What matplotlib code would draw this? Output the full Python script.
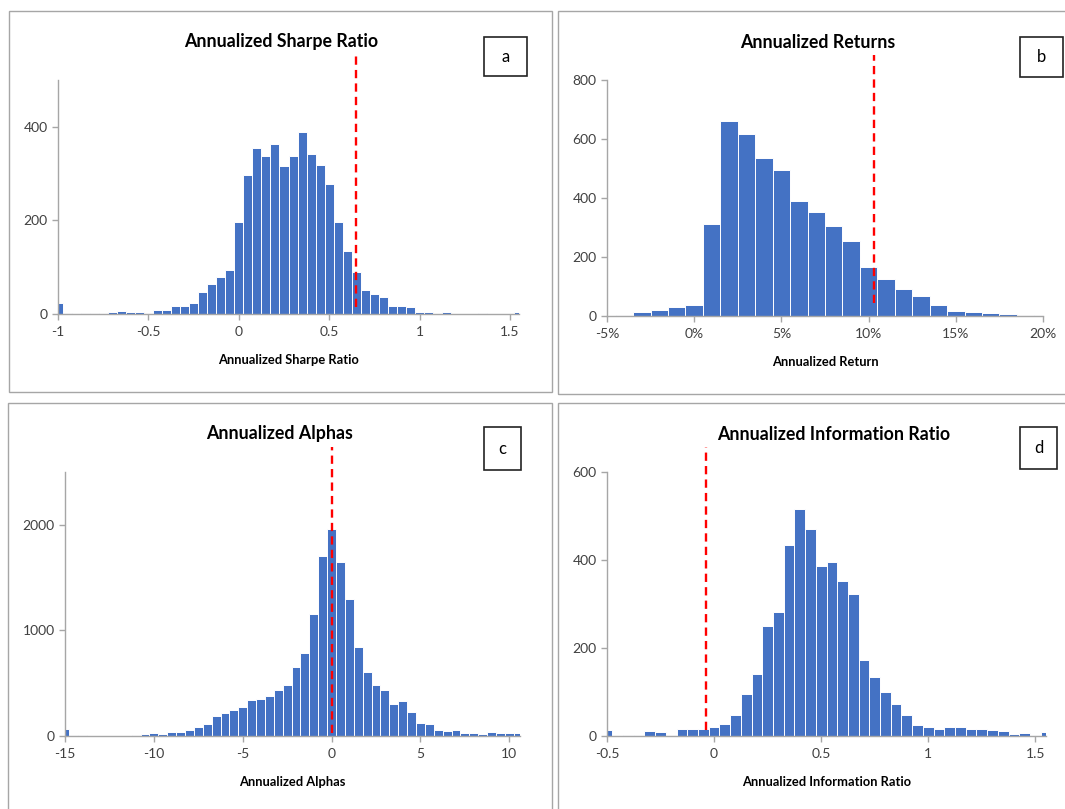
import numpy as np
import matplotlib
matplotlib.use("Agg")
import matplotlib.pyplot as plt
from matplotlib.patches import Rectangle

plt.rcParams['font.family'] = ['Lato', 'DejaVu Sans']
plt.rcParams['axes.unicode_minus'] = False

# --- data (bin centers + counts) ---
sharpe_bins = np.round(np.arange(-1.0, 1.551, 0.05), 2)
sharpe_counts = [23, 2, 0, 2, 2, 0, 5, 7, 5, 5, 3, 9, 9, 17, 18, 23, 48, 64, 80, 95,
                 196, 297, 354, 337, 364, 316, 337, 389, 341, 318, 278, 196, 134, 90,
                 51, 42, 36, 18, 17, 14, 4, 4, 0, 4, 0, 1, 0, 2, 0, 0, 0, 4]

return_bins = np.arange(-5, 21, 1)  # percent
return_counts = [0, 5, 12, 21, 30, 38, 311, 662, 617, 534, 494, 389, 353, 306, 255,
                 167, 124, 90, 68, 36, 16, 14, 9, 6, 5, 2]

alpha_bins = np.arange(-15.0, 10.51, 0.5)
alpha_counts = [66, 6, 5, 3, 3, 2, 3, 4, 7, 15, 28, 22, 40, 40, 55, 82, 115, 190, 215,
                243, 272, 345, 355, 383, 436, 480, 651, 784, 1156, 1703, 1959, 1649,
                1295, 847, 607, 483, 436, 303, 332, 224, 126, 110, 57, 50, 54, 32, 28,
                22, 38, 28, 28, 25]

info_bins = np.round(np.arange(-0.5, 1.551, 0.05), 2)
info_counts = [14, 0, 3, 2, 11, 9, 2, 17, 15, 17, 20, 28, 48, 96, 140, 251, 282, 434,
               517, 471, 386, 396, 353, 322, 172, 133, 100, 72, 47, 24, 20, 15, 20, 20,
               15, 17, 13, 11, 4, 7, 2, 8]

W, H = 1065, 809
fig = plt.figure(figsize=(W / 100, H / 100), dpi=100)
fig.patch.set_facecolor('white')

BLUE = '#4472C4'
GRID = '#A6A6A6'
TXT = '#404040'


def px_axes(l, t, r, b):
    return fig.add_axes([l / W, (H - b) / H, (r - l) / W, (b - t) / H])


def fig_rect(l, t, r, b, color, lw):
    fig.add_artist(Rectangle((l / W, (H - b) / H), (r - l) / W, (b - t) / H,
                             transform=fig.transFigure, fill=False,
                             edgecolor=color, linewidth=lw))


def label_box(l, t, r, b, letter):
    fig_rect(l, t, r, b, '#222222', 1.2)
    fig.text((l + r) / 2 / W, 1 - (t + b) / 2 / H, letter, ha='center', va='center',
             fontsize=12, color='black')


def style(ax, xlim, ylim, yticks, xticks, xlabel, title, title_x, title_y):
    ax.set_xlim(*xlim)
    ax.set_ylim(*ylim)
    ax.set_yticks(yticks)
    ax.set_xticks(xticks)
    for s in ['top', 'right']:
        ax.spines[s].set_visible(False)
    for s in ['left', 'bottom']:
        ax.spines[s].set_color(GRID)
        ax.spines[s].set_linewidth(1.0)
    ax.tick_params(axis='both', direction='out', length=4, width=1.0, color=GRID,
                   labelsize=10, labelcolor=TXT)
    ax.tick_params(axis='x', pad=5)
    ax.set_xlabel(xlabel, fontsize=9.3, fontweight='bold', color='black', labelpad=11)
    fig.text(title_x / W, 1 - title_y / H, title, ha='center', va='center',
             fontsize=12.8, fontweight='bold', color='black')


def red_line(ax, x, y0, y1):
    ax.plot([x, x], [y0, y1], transform=ax.get_xaxis_transform(), clip_on=False,
            color='#FF0000', linestyle=(0, (3.5, 2.2)), linewidth=1.7, zorder=5)


# panel frames
fig_rect(9, 11, 552, 392, GRID, 1.0)
fig_rect(558, 11, 1070, 394, GRID, 1.0)
fig_rect(8, 403, 552, 815, GRID, 1.0)
fig_rect(558, 403, 1070, 815, GRID, 1.0)

# a: Sharpe ratio
ax = px_axes(58, 80, 519, 314)
ax.bar(sharpe_bins, sharpe_counts, width=0.05, color=BLUE, edgecolor='white', linewidth=0.7)
style(ax, (-1, 1.55), (0, 500), [0, 200, 400], [-1, -0.5, 0, 0.5, 1, 1.5],
      'Annualized Sharpe Ratio', 'Annualized Sharpe Ratio', 281, 42)
ax.set_xticklabels(['-1', '-0.5', '0', '0.5', '1', '1.5'])
red_line(ax, 0.65, 0.03, 1.12)
label_box(484, 37, 527, 76, 'a')

# b: returns
ax = px_axes(607, 80, 1043, 316)
ax.bar(return_bins, return_counts, width=1.0, color=BLUE, edgecolor='white', linewidth=0.7)
style(ax, (-5, 20), (0, 800), [0, 200, 400, 600, 800], [-5, 0, 5, 10, 15, 20],
      'Annualized Return', 'Annualized Returns', 818, 42)
ax.set_xticklabels([f'{v}%' for v in [-5, 0, 5, 10, 15, 20]])
red_line(ax, 10.3, 0.055, 1.106)
label_box(1020, 37, 1063, 77, 'b')

# c: alphas
ax = px_axes(65, 472, 520, 736)
ax.bar(alpha_bins, alpha_counts, width=0.5, color=BLUE, edgecolor='white', linewidth=0.7)
style(ax, (-15, 10.6), (0, 2500), [0, 1000, 2000], [-15, -10, -5, 0, 5, 10],
      'Annualized Alphas', 'Annualized Alphas', 280, 434)
red_line(ax, 0.0, 0.01, 1.095)
label_box(484, 427, 521, 470, 'c')

# d: information ratio
ax = px_axes(607, 472, 1046, 736)
ax.bar(info_bins, info_counts, width=0.05, color=BLUE, edgecolor='white', linewidth=0.7)
style(ax, (-0.5, 1.55), (0, 600), [0, 200, 400, 600], [-0.5, 0, 0.5, 1, 1.5],
      'Annualized Information Ratio', 'Annualized Information Ratio', 834, 434)
ax.set_xticklabels(['-0.5', '0', '0.5', '1', '1.5'])
red_line(ax, -0.04, 0.023, 1.095)
label_box(1020, 427, 1057, 469, 'd')

fig.savefig('out.png', dpi=100, facecolor='white')
